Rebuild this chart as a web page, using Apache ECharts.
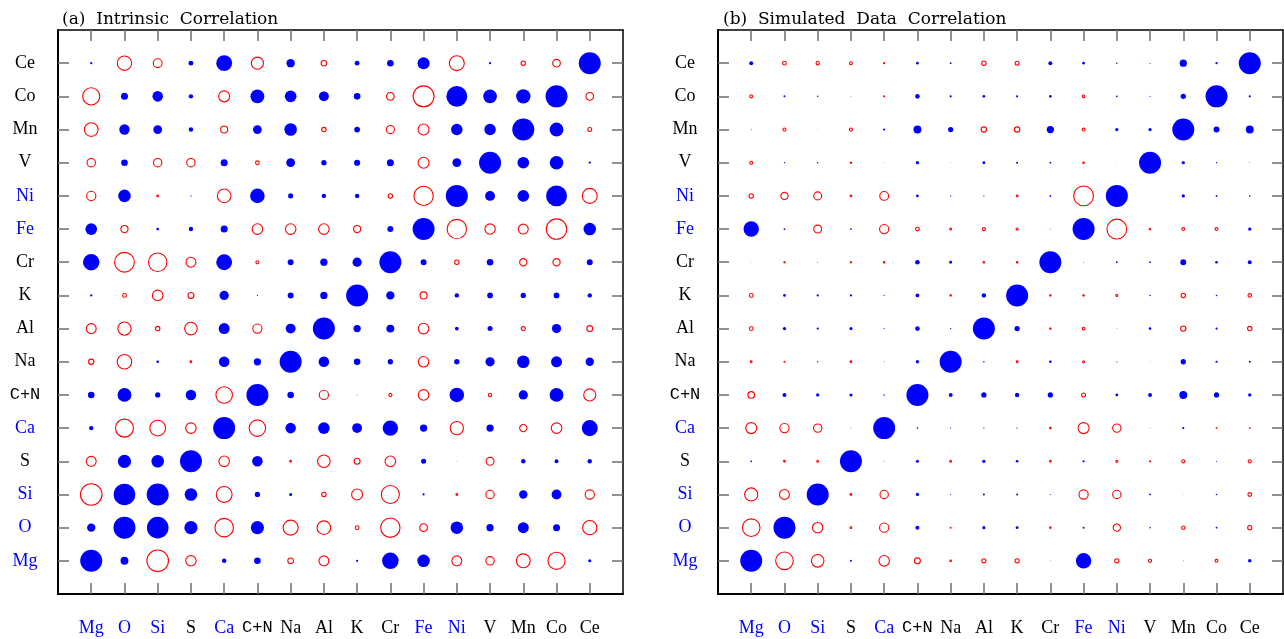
<!DOCTYPE html>
<html>
<head>
<meta charset="utf-8">
<script src="https://cdn.jsdelivr.net/npm/echarts@6/dist/echarts.min.js"></script>
<style>
html,body{margin:0;padding:0;background:#fff;}
#chart{width:1284px;height:639px;}
</style>
</head>
<body>
<div id="chart"></div>
<script>
// Element labels (x: left to right, y: bottom to top)
const elements = ['Mg','O','Si','S','Ca','C+N','Na','Al','K','Cr','Fe','Ni','V','Mn','Co','Ce'];
const blueElements = ['Mg','O','Si','Ca','Fe','Ni'];
const titleA = '(a)  Intrinsic  Correlation';
const titleB = '(b)  Simulated  Data  Correlation';

// Panel (a): rows from Mg (bottom) to Ce (top); columns Mg..Ce
const intrinsicCorr = [
  [ 1.00, 0.36,-0.98,-0.47, 0.20, 0.30,-0.26,-0.45, 0.10, 0.75, 0.57,-0.45,-0.38,-0.63,-0.78, 0.14], // Mg
  [ 0.38, 1.00, 0.98, 0.60,-0.84, 0.60,-0.68,-0.62,-0.17,-0.88,-0.35, 0.57, 0.33, 0.50, 0.32,-0.65], // O
  [-0.98, 0.98, 1.00, 0.57,-0.72, 0.24, 0.14,-0.20,-0.50,-0.82, 0.10,-0.08,-0.38, 0.38, 0.45,-0.42], // Si
  [-0.45, 0.60, 0.57, 1.00,-0.48, 0.48,-0.08,-0.57,-0.27,-0.48, 0.23, 0.03,-0.36, 0.20, 0.18, 0.20], // S
  [ 0.20,-0.82,-0.72,-0.48, 1.00,-0.75, 0.48, 0.53, 0.45, 0.70, 0.33,-0.60, 0.33,-0.33,-0.48, 0.73], // Ca
  [ 0.30, 0.63, 0.24, 0.48,-0.75, 1.00, 0.30,-0.42, 0.04,-0.14,-0.48, 0.66,-0.15, 0.42, 0.63,-0.55], // C+N
  [-0.24,-0.66, 0.12,-0.08, 0.48, 0.33, 1.00, 0.48, 0.30, 0.24,-0.48, 0.24, 0.42, 0.57, 0.50, 0.38], // Na
  [-0.45,-0.60,-0.20,-0.57, 0.50,-0.42, 0.45, 1.00, 0.33, 0.36,-0.48, 0.17, 0.23,-0.18, 0.42,-0.27], // Al
  [ 0.10,-0.17,-0.48,-0.27, 0.42, 0.05, 0.27, 0.33, 1.00, 0.38,-0.32, 0.20, 0.26, 0.24, 0.26, 0.20], // K
  [ 0.75,-0.90,-0.84,-0.45, 0.72,-0.14, 0.27, 0.33, 0.42, 1.00, 0.27,-0.20, 0.30,-0.33,-0.33, 0.27], // Cr
  [ 0.53,-0.33, 0.12, 0.20, 0.32,-0.48,-0.48,-0.48,-0.32, 0.27, 1.00,-0.88,-0.47,-0.45,-0.93, 0.57], // Fe
  [-0.42, 0.57,-0.08, 0.05,-0.62, 0.66, 0.23, 0.20, 0.20,-0.20,-0.88, 1.00, 0.45, 0.53, 0.95,-0.68], // Ni
  [-0.38, 0.30,-0.38,-0.38, 0.32,-0.17, 0.40, 0.24, 0.28, 0.32,-0.50, 0.40, 1.00, 0.53, 0.62, 0.10], // V
  [-0.62, 0.47, 0.40, 0.20,-0.32, 0.40, 0.57,-0.20, 0.26,-0.37,-0.50, 0.52, 0.52, 1.00, 0.63,-0.18], // Mn
  [-0.78, 0.32, 0.48, 0.20,-0.50, 0.63, 0.53, 0.45, 0.30,-0.35,-0.95, 0.95, 0.62, 0.65, 1.00,-0.35], // Co
  [ 0.10,-0.65,-0.40, 0.22, 0.72,-0.55, 0.38,-0.25, 0.22, 0.30, 0.55,-0.68, 0.10,-0.20,-0.35, 1.00]  // Ce
];

// Panel (b): rows from Mg (bottom) to Ce (top); columns Mg..Ce
const simulatedCorr = [
  [ 1.00,-0.80,-0.57, 0.09,-0.48,-0.27,-0.08,-0.19,-0.19, 0.03, 0.70,-0.19,-0.14, 0.04,-0.13, 0.16], // Mg
  [-0.80, 1.00,-0.47,-0.08,-0.42, 0.18,-0.04, 0.14, 0.13,-0.07, 0.09,-0.33, 0.07,-0.15, 0.08,-0.19], // O
  [-0.60,-0.45, 1.00,-0.08,-0.38, 0.15, 0.05, 0.09, 0.09, 0.05,-0.42,-0.38, 0.08, 0.02, 0.07,-0.17], // Si
  [ 0.08,-0.08,-0.09, 1.00, 0.04, 0.14,-0.09, 0.15, 0.12,-0.08, 0.10,-0.10,-0.05,-0.14, 0.05,-0.14], // S
  [-0.50,-0.42,-0.38, 0.04, 1.00, 0.07, 0.05, 0.06, 0.06,-0.08,-0.50,-0.38, 0.04, 0.10,-0.04,-0.04], // Ca
  [-0.30, 0.18, 0.15, 0.14, 0.07, 1.00, 0.18, 0.24, 0.20, 0.24,-0.18, 0.13, 0.18, 0.36, 0.24, 0.15], // C+N
  [-0.08,-0.04, 0.06,-0.08, 0.04, 0.15, 1.00, 0.07,-0.08, 0.12,-0.09, 0.05, 0.03, 0.24, 0.10, 0.09], // Na
  [-0.17, 0.15, 0.10, 0.14, 0.05, 0.21, 0.06, 1.00, 0.24,-0.07,-0.12, 0.04, 0.12,-0.24, 0.10,-0.20], // Al
  [-0.17, 0.12, 0.10, 0.10, 0.05, 0.17,-0.07, 0.20, 1.00,-0.07,-0.07,-0.09, 0.07,-0.20, 0.07,-0.16], // K
  [ 0.02,-0.06, 0.04,-0.06,-0.07, 0.21, 0.13,-0.07,-0.07, 1.00, 0.04, 0.08, 0.08, 0.27, 0.12, 0.18], // Cr
  [ 0.70, 0.08,-0.36, 0.08,-0.42,-0.17,-0.09,-0.14,-0.10, 0.04, 1.00,-0.90,-0.07,-0.13,-0.13, 0.15], // Fe
  [-0.20,-0.33,-0.36,-0.08,-0.40, 0.12, 0.05, 0.05,-0.08, 0.08,-0.90, 1.00, 0.02, 0.15, 0.08, 0.07], // Ni
  [-0.13, 0.06, 0.07,-0.06, 0.03, 0.15, 0.03, 0.13, 0.09, 0.08,-0.07, 0.02, 1.00, 0.15, 0.06, 0.04], // V
  [ 0.04,-0.14, 0.02,-0.14, 0.10, 0.36, 0.24,-0.24,-0.24, 0.33,-0.13, 0.15, 0.15, 1.00, 0.27, 0.36], // Mn
  [-0.14, 0.09, 0.07, 0.04,-0.05, 0.21, 0.10, 0.12, 0.10, 0.12,-0.12, 0.08, 0.05, 0.24, 1.00, 0.10], // Co
  [ 0.18,-0.17,-0.15,-0.13,-0.05, 0.12, 0.08,-0.20,-0.18, 0.18, 0.12, 0.07, 0.05, 0.33, 0.10, 1.00]  // Ce
];

const BLUE = '#0000ff';
const RED = '#ff0000';
const MAXD = 22; // marker diameter for |r| = 1
const tickVals = elements.map((_, i) => i + 1);

function labelFmt(v) {
  const name = elements[Math.round(v) - 1];
  if (!name) return '';
  if (name === 'C+N') return '{m|C+N}';
  return blueElements.includes(name) ? '{b|' + name + '}' : '{k|' + name + '}';
}
const rich = {
  b: {color: BLUE, fontFamily: 'Liberation Serif', fontSize: 18},
  k: {color: '#000', fontFamily: 'Liberation Serif', fontSize: 18},
  m: {color: '#000', fontFamily: 'Liberation Mono', fontSize: 17}
};

function split(mat) {
  const pos = [], neg = [];
  mat.forEach((row, yi) => row.forEach((r, xi) => {
    const p = [xi + 1, yi + 1, r];
    (r >= 0 ? pos : neg).push(p);
  }));
  return {pos, neg};
}

function axesFor(gi) {
  const common = {
    type: 'value', min: 0, max: 17, interval: 1, gridIndex: gi,
    splitLine: {show: false},
    axisTick: {show: true, inside: true, length: 11, customValues: tickVals,
      lineStyle: {color: '#6e6e6e', width: 1.5}}
  };
  const x = [
    Object.assign({}, common, {position: 'bottom',
      axisLine: {show: true, onZero: false, lineStyle: {color: '#000', width: 2}},
      axisLabel: {show: true, customValues: tickVals, formatter: labelFmt, rich: rich, margin: 25}}),
    Object.assign({}, common, {position: 'top',
      axisLine: {show: true, onZero: false, lineStyle: {color: '#000', width: 1.5}},
      axisLabel: {show: false}})
  ];
  const y = [
    Object.assign({}, common, {position: 'left',
      axisLine: {show: true, onZero: false, lineStyle: {color: '#000', width: 2}},
      axisLabel: {show: true, customValues: tickVals, formatter: labelFmt, rich: rich, margin: 33, align: 'center'}}),
    Object.assign({}, common, {position: 'right',
      axisLine: {show: true, onZero: false, lineStyle: {color: '#000', width: 1.5}},
      axisLabel: {show: false}})
  ];
  return {x, y};
}

const a = axesFor(0), b = axesFor(1);
const dA = split(intrinsicCorr), dB = split(simulatedCorr);
const sizeFn = v => MAXD * Math.abs(v[2]);

function seriesFor(d, idx) {
  return [
    {type: 'scatter', xAxisIndex: idx * 2, yAxisIndex: idx * 2, data: d.pos, symbol: 'circle',
      symbolSize: sizeFn, itemStyle: {color: BLUE, opacity: 1}, silent: true, animation: false},
    {type: 'scatter', xAxisIndex: idx * 2, yAxisIndex: idx * 2, data: d.neg, symbol: 'circle',
      symbolSize: sizeFn, itemStyle: {color: 'rgba(0,0,0,0)', borderColor: RED, borderWidth: 1.1, opacity: 1},
      silent: true, animation: false}
  ];
}

const chart = echarts.init(document.getElementById('chart'), null, {renderer: 'canvas'});
chart.setOption({
  animation: false,
  backgroundColor: '#fff',
  title: [
    {text: titleA, left: 57, top: 6, textStyle: {fontFamily: 'DejaVu Serif', fontSize: 17, fontWeight: 'normal', color: '#000'}},
    {text: titleB, left: 718, top: 6, textStyle: {fontFamily: 'DejaVu Serif', fontSize: 17, fontWeight: 'normal', color: '#000'}}
  ],
  grid: [
    {left: 58, top: 30, width: 565, height: 564},
    {left: 718, top: 30, width: 565, height: 564}
  ],
  xAxis: [a.x[0], a.x[1], b.x[0], b.x[1]].map((ax, i) => Object.assign(ax, {gridIndex: i < 2 ? 0 : 1})),
  yAxis: [a.y[0], a.y[1], b.y[0], b.y[1]].map((ax, i) => Object.assign(ax, {gridIndex: i < 2 ? 0 : 1})),
  series: [].concat(seriesFor(dA, 0), seriesFor(dB, 1))
});
</script>
</body>
</html>
